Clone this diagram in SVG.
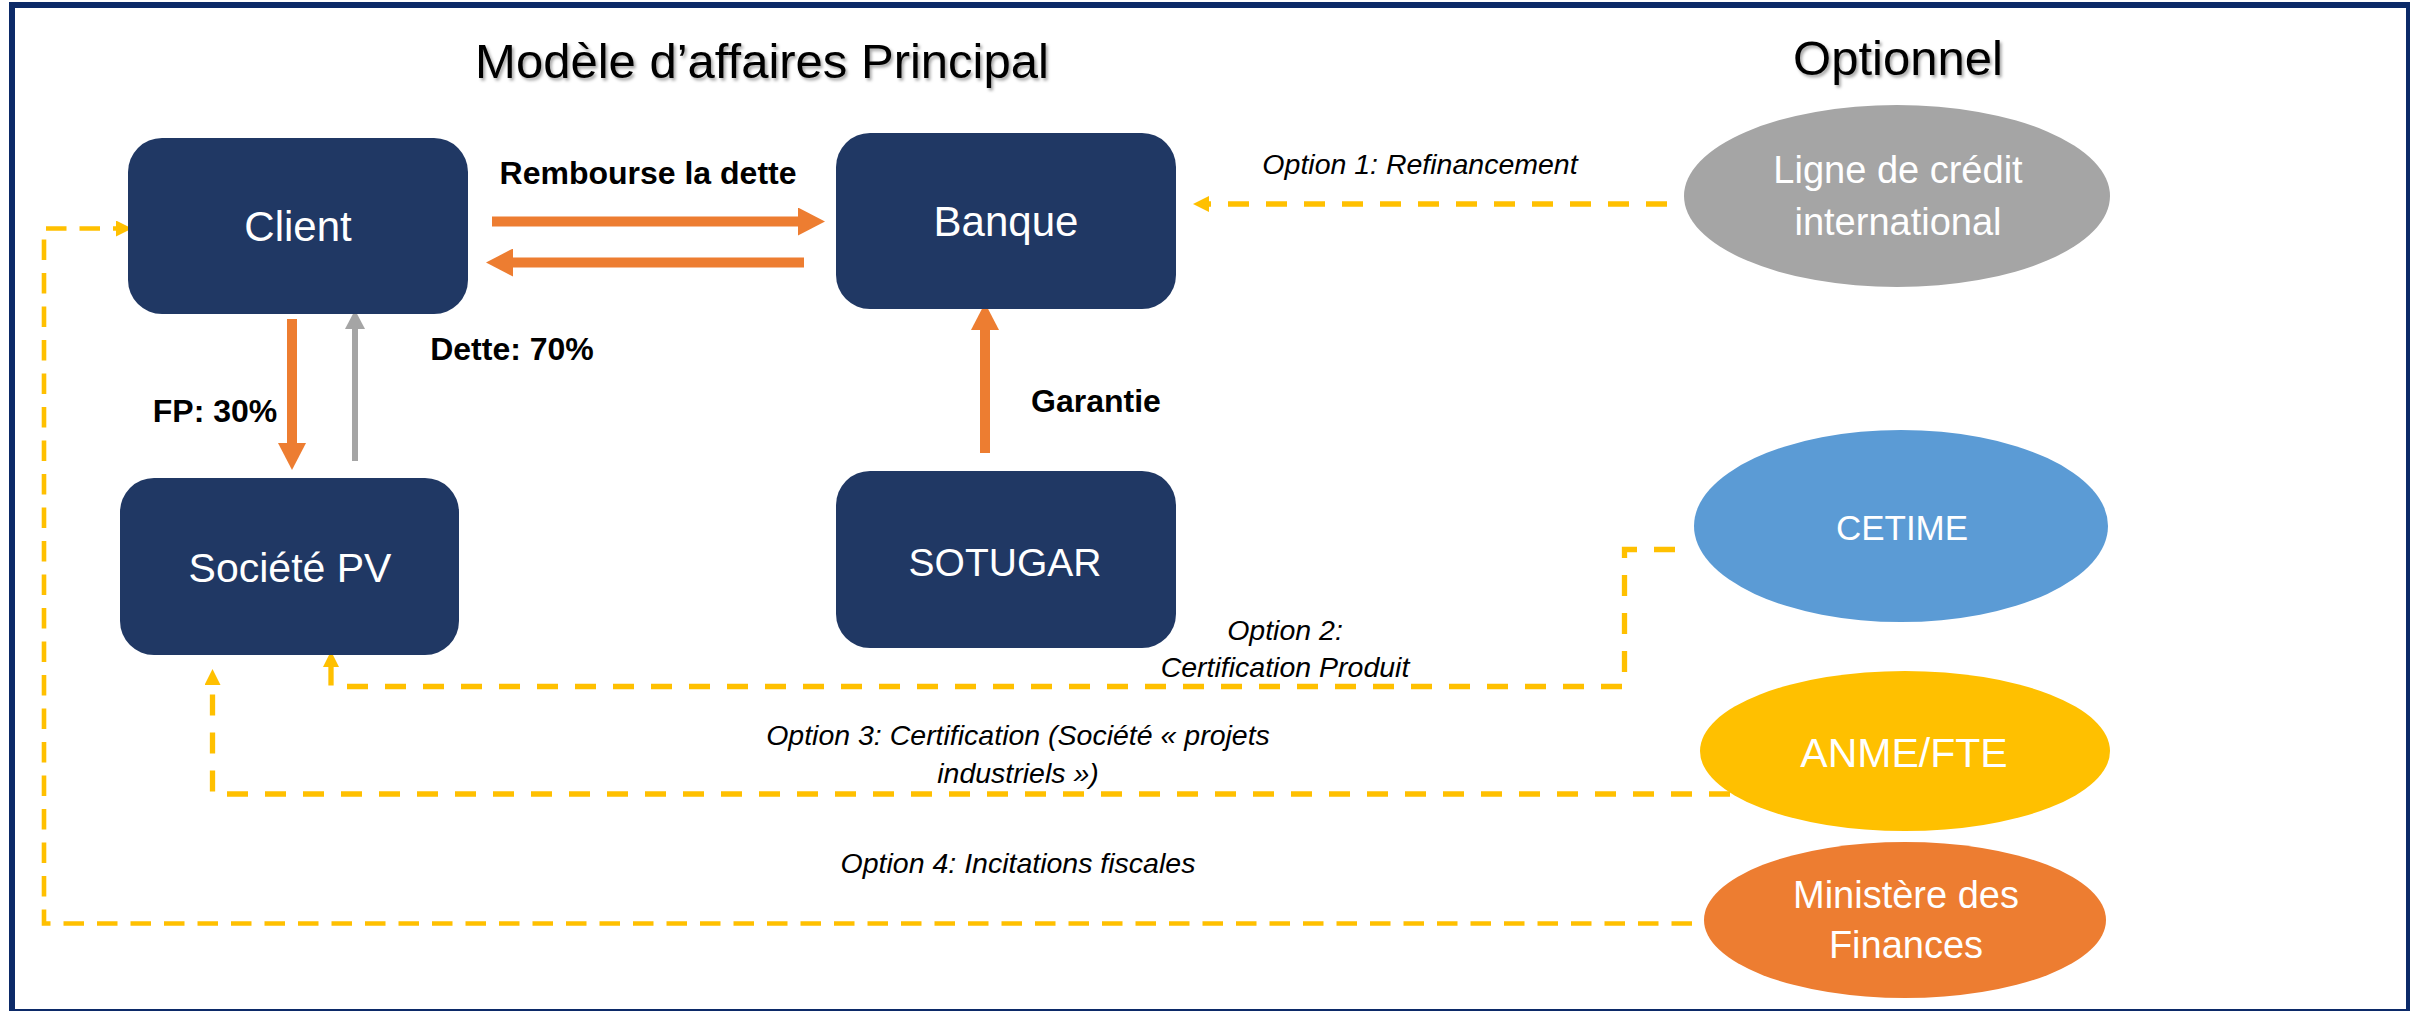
<svg xmlns="http://www.w3.org/2000/svg" width="2410" height="1011" viewBox="0 0 2410 1011">
<style>
  .box { fill: #203864; }
  .ntext { font-family: "Liberation Sans", Arial, sans-serif; fill: #ffffff; text-anchor: middle; }
  .title { font-family: "Liberation Sans", Arial, sans-serif; font-size: 49px; fill: #000000; text-anchor: middle; }
  .lbl { font-family: "Liberation Sans", Arial, sans-serif; font-size: 32px; font-weight: bold; fill: #000000; text-anchor: middle; }
  .opt { font-family: "Liberation Sans", Arial, sans-serif; font-size: 28.5px; font-style: italic; fill: #000000; text-anchor: middle; }
  .orange { fill: none; stroke: #ED7D31; stroke-width: 10; }
  .gray { fill: none; stroke: #A5A5A5; stroke-width: 6; }
  .dash { fill: none; stroke: #FFC000; stroke-width: 5.3; stroke-dasharray: 21 17; }
  .dash4 { fill: none; stroke: #FFC000; stroke-width: 4.6; stroke-dasharray: 20.5 13; }
</style>
<defs>
  <marker id="headOrange" markerUnits="userSpaceOnUse" viewBox="0 0 27 28" refX="0" refY="14" markerWidth="27" markerHeight="28" orient="auto">
    <path d="M0,0 L27,14 L0,28 z" fill="#ED7D31"/>
  </marker>
  <marker id="headGray" markerUnits="userSpaceOnUse" viewBox="0 0 19 20" refX="0" refY="10" markerWidth="19" markerHeight="20" orient="auto">
    <path d="M0,0 L19,10 L0,20 z" fill="#A5A5A5"/>
  </marker>
  <marker id="headYellow" markerUnits="userSpaceOnUse" viewBox="0 0 16 16" refX="0" refY="8" markerWidth="16" markerHeight="16" orient="auto">
    <path d="M0,0 L16,8 L0,16 z" fill="#FFC000"/>
  </marker>
  <filter id="shadow" x="-5%" y="-20%" width="110%" height="150%">
    <feDropShadow dx="2" dy="2.5" stdDeviation="1.5" flood-color="#000000" flood-opacity="0.35"/>
  </filter>
</defs>

<rect id="frame" x="12" y="5" width="2397" height="1007" fill="#ffffff" stroke="#0c2a68" stroke-width="6"/>

<g id="titles">
  <text class="title" x="762" y="78" filter="url(#shadow)">Modèle d’affaires Principal</text>
  <text class="title" x="1898" y="75" filter="url(#shadow)">Optionnel</text>
</g>

<g id="connectors">
  <path class="orange" d="M492,221.5 H798" marker-end="url(#headOrange)"/>
  <path class="orange" d="M804,262.5 H513" marker-end="url(#headOrange)"/>
  <path class="orange" d="M292,319 V443" marker-end="url(#headOrange)"/>
  <path class="orange" d="M985,453 V330" marker-end="url(#headOrange)"/>
  <path class="gray" d="M355,461 V329" marker-end="url(#headGray)"/>
  <path class="dash" d="M1667,204 H1209" marker-end="url(#headYellow)"/>
  <path class="dash" d="M1675,549.5 H1624.5 V686.5 H331 V667" marker-end="url(#headYellow)"/>
  <path class="dash" d="M1730,794 H212.5 V685" marker-end="url(#headYellow)"/>
  <path class="dash4" d="M1692,923.5 H44 V228.5 H116" marker-end="url(#headYellow)"/>
</g>

<g id="labels">
  <text class="lbl" x="648" y="184">Rembourse la dette</text>
  <text class="lbl" x="512" y="360">Dette: 70%</text>
  <text class="lbl" x="215" y="422">FP: 30%</text>
  <text class="lbl" x="1096" y="412">Garantie</text>
  <text class="opt" x="1420" y="174">Option 1: Refinancement</text>
  <text class="opt" x="1285" y="640">Option 2:</text>
  <text class="opt" x="1285" y="677">Certification Produit</text>
  <text class="opt" x="1018" y="745">Option 3: Certification (Société « projets</text>
  <text class="opt" x="1018" y="783">industriels »)</text>
  <text class="opt" x="1018" y="873">Option 4: Incitations fiscales</text>
</g>

<g id="client">
  <rect class="box" x="128" y="138" width="340" height="176" rx="34" ry="34"/>
  <text class="ntext" x="298" y="241" font-size="42">Client</text>
</g>
<g id="banque">
  <rect class="box" x="836" y="133" width="340" height="176" rx="34" ry="34"/>
  <text class="ntext" x="1006" y="236" font-size="42">Banque</text>
</g>
<g id="societe-pv">
  <rect class="box" x="120" y="478" width="339" height="177" rx="34" ry="34"/>
  <text class="ntext" x="290" y="582" font-size="41">Société PV</text>
</g>
<g id="sotugar">
  <rect class="box" x="836" y="471" width="340" height="177" rx="34" ry="34"/>
  <text class="ntext" x="1005" y="576" font-size="39">SOTUGAR</text>
</g>
<g id="ligne-credit">
  <ellipse cx="1897" cy="196" rx="213" ry="91" fill="#A5A5A5"/>
  <text class="ntext" x="1898" y="183" font-size="38">Ligne de crédit</text>
  <text class="ntext" x="1898" y="235" font-size="38">international</text>
</g>
<g id="cetime">
  <ellipse cx="1901" cy="526" rx="207" ry="96" fill="#5B9BD5"/>
  <text class="ntext" x="1902" y="540" font-size="35">CETIME</text>
</g>
<g id="anme-fte">
  <ellipse cx="1905" cy="751" rx="205" ry="80" fill="#FFC000"/>
  <text class="ntext" x="1904" y="767" font-size="41">ANME/FTE</text>
</g>
<g id="ministere">
  <ellipse cx="1905" cy="920" rx="201" ry="78" fill="#ED7D31"/>
  <text class="ntext" x="1906" y="908" font-size="38">Ministère des</text>
  <text class="ntext" x="1906" y="958" font-size="38">Finances</text>
</g>
</svg>
